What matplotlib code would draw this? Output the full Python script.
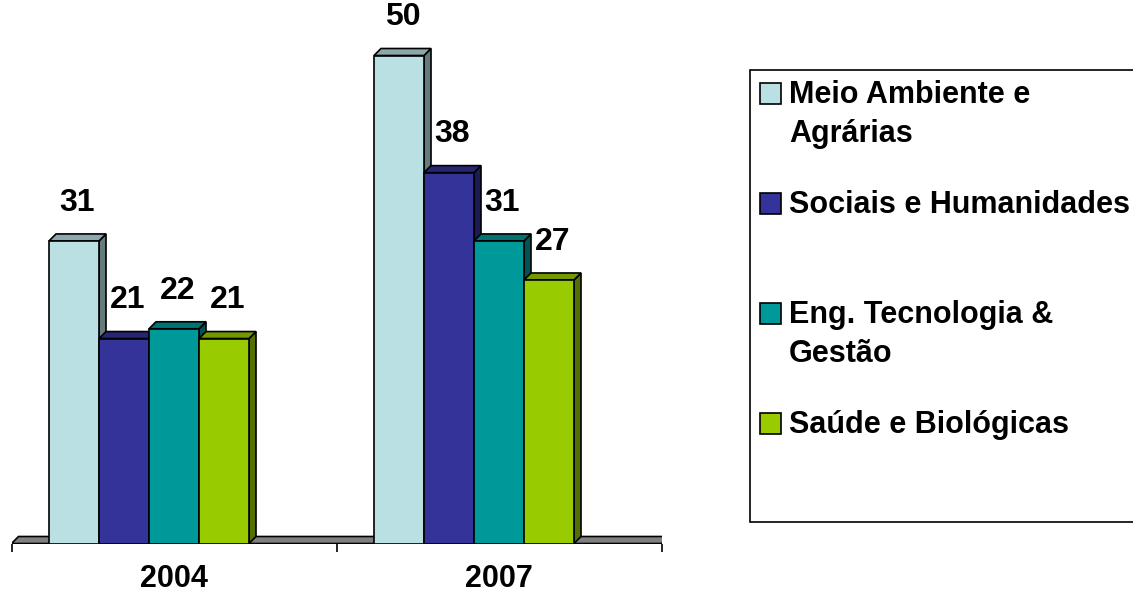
import numpy as np
import matplotlib.pyplot as plt
from matplotlib.patches import Rectangle

years = ["2004", "2007"]
areas = ["Meio Ambiente e\nAgrárias", "Sociais e Humanidades",
         "Eng. Tecnologia &\nGestão", "Saúde e Biológicas"]
values = {
    "Meio Ambiente e\nAgrárias": [31, 50],
    "Sociais e Humanidades": [21, 38],
    "Eng. Tecnologia &\nGestão": [22, 31],
    "Saúde e Biológicas": [21, 27],
}
colors = ["#BBE0E3", "#333399", "#009999", "#99CC00"]

plt.rcParams["font.family"] = ["Liberation Sans", "DejaVu Sans"]
plt.rcParams["font.weight"] = "bold"

W, H = 1133, 593
fig = plt.figure(figsize=(W / 100, H / 100), dpi=100)

# axes placed in pixels: x from 11.5 to 661.5, baseline at 543.5
ax = fig.add_axes([11.5 / W, (H - 543.5) / H, 650 / W, 543.5 / H])
ax.set_xlim(-0.5, 1.5)
ax.set_ylim(0, 543.5 / 9.76)
for s in ["top", "right", "left", "bottom"]:
    ax.spines[s].set_visible(False)

# depth of the 3D effect, in data units (7 px)
dx = 7 / 325
dy = 7 / 9.76
w = 50 / 325


def shade(c, f):
    r, g, b = [int(c[i:i + 2], 16) for i in (1, 3, 5)]
    return "#%02x%02x%02x" % (int(r * f), int(g * f), int(b * f))


# floor
ax.fill([-0.5, 1.5, 1.5 + dx, -0.5 + dx], [0, 0, dy, dy],
        facecolor="#808080", edgecolor="black", linewidth=1.2, zorder=1)

x = np.arange(len(years))
for i, (name, col) in enumerate(zip(areas, colors)):
    xs = x + (i - 2) * w
    for xc, h in zip(xs, values[name]):
        x0, x1 = xc - w / 2, xc + w / 2
        z = 2 + i
        ax.fill([x1, x1 + dx, x1 + dx, x1], [0, dy, h + dy, h],
                facecolor=shade(col, 0.55), edgecolor="black", linewidth=1.2, zorder=z)
        ax.fill([x0, x0 + dx, x1 + dx, x1], [h, h + dy, h + dy, h],
                facecolor=shade(col, 0.75), edgecolor="black", linewidth=1.2, zorder=z)
        ax.add_patch(Rectangle((x0, 0), w, h, facecolor=col, edgecolor="black",
                               linewidth=1.2, zorder=z))
        ax.annotate(str(h), (xc + dx / 2, h), xytext=(0, 27.5), textcoords="offset points",
                    ha="center", va="center", fontsize=23, fontweight="bold",
                    annotation_clip=False, zorder=10)

ax.axhline(0, color="black", linewidth=1.2, zorder=1.5)
ax.set_xticks([0, 1])
ax.set_xticklabels(years, fontsize=22, fontweight="bold")
ax.tick_params(axis="x", which="major", length=0, pad=15)
ax.set_xticks([-0.5, 0.5, 1.5], minor=True)
ax.tick_params(axis="x", which="minor", length=6, width=1.2, direction="out", color="black")
ax.set_yticks([])


# legend box drawn in pixels
def fx(px):
    return px / W


def fy(py):
    return (H - py) / H


fig.patches.append(Rectangle((fx(750), fy(522)), fx(1140) - fx(750), fy(70) - fy(522),
                             transform=fig.transFigure, facecolor="white",
                             edgecolor="black", linewidth=1.2, zorder=0))
sw_top = [83, 193, 303, 413]
for name, col, top in zip(areas, colors, sw_top):
    fig.patches.append(Rectangle((fx(760), fy(top + 21)), 21 / W, 21 / H,
                                 transform=fig.transFigure, facecolor=col,
                                 edgecolor="black", linewidth=1.2))
    for k, line in enumerate(name.split("\n")):
        fig.text(fx(789), fy(top + 20 + 39 * k), line, fontsize=22, fontweight="bold",
                 ha="left", va="baseline")

fig.savefig("out.png", dpi=100)
